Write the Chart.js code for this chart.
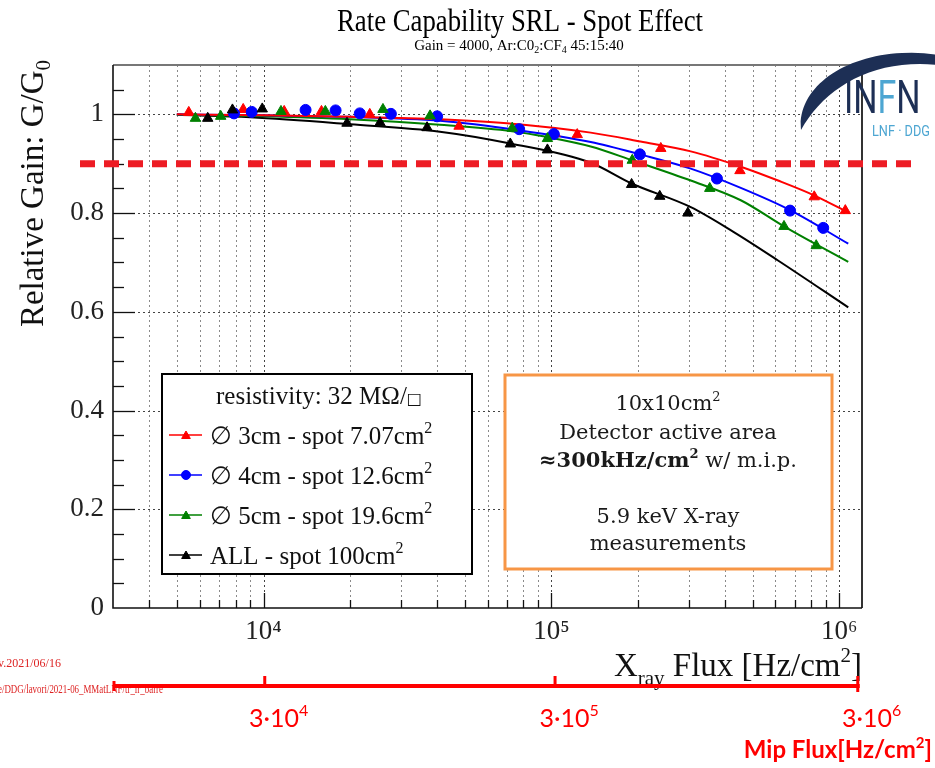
<!DOCTYPE html>
<html><head><meta charset="utf-8">
<script src="https://cdn.jsdelivr.net/npm/chart.js@4.4.1/dist/chart.umd.min.js"></script>
<style>html,body{margin:0;padding:0;background:#fff;}#wrap{width:935px;height:768px;}</style>
</head><body><div id="wrap"><canvas id="c" width="935" height="768"></canvas></div>
<script>
// ---------- data ----------
const seriesLabels = ['\u2205 3cm - spot 7.07cm', '\u2205 4cm - spot 12.6cm', '\u2205 5cm - spot 19.6cm', 'ALL - spot 100cm'];
const seriesColors = ['#ff0000', '#0000ff', '#008000', '#000000'];
const seriesMarkers = ['triangle', 'circle', 'triangle', 'triangle'];

const fluxRed  = [5500, 8500, 11800, 15900, 23400, 47800, 103000, 123000, 240000, 452000, 819000, 1050000];
const gainRed  = [1.004, 1.010, 1.006, 1.006, 1.000, 0.976, 0.961, 0.959, 0.931, 0.886, 0.833, 0.805];
const fluxBlue = [7900, 9100, 14000, 17800, 21600, 27700, 40100, 77300, 102000, 203000, 376000, 675000, 880000];
const gainBlue = [1.002, 1.005, 1.009, 1.008, 1.002, 1.001, 0.996, 0.970, 0.960, 0.919, 0.870, 0.805, 0.770];
const fluxGreen = [5800, 7100, 11500, 16400, 26000, 37900, 73100, 96900, 191000, 355000, 643000, 832000];
const gainGreen = [0.992, 0.996, 1.006, 1.006, 1.010, 0.997, 0.972, 0.951, 0.907, 0.850, 0.773, 0.734];
const fluxAll = [6400, 7800, 9900, 19500, 25400, 37000, 72000, 96900, 190000, 238000, 298000];
const gainAll = [0.992, 1.009, 1.011, 0.982, 0.983, 0.973, 0.940, 0.928, 0.858, 0.834, 0.800];

// fitted curves
const fitFluxRed  = [5000, 10000, 20000, 41000, 70000, 137000, 204000, 305000, 455000, 613000, 818000, 1075000];
const fitGainRed  = [1.000, 0.998, 0.995, 0.990, 0.982, 0.963, 0.945, 0.925, 0.894, 0.866, 0.836, 0.801];
const fitFluxBlue = [5000, 10000, 20000, 41000, 77000, 137000, 203000, 305000, 455000, 675000, 1075000];
const fitGainBlue = [1.000, 0.998, 0.995, 0.987, 0.968, 0.944, 0.919, 0.890, 0.851, 0.806, 0.738];
const fitFluxGreen = [5000, 10000, 20000, 41000, 73000, 97000, 137000, 191000, 305000, 455000, 643000, 1075000];
const fitGainGreen = [0.999, 0.996, 0.990, 0.979, 0.966, 0.954, 0.935, 0.907, 0.866, 0.826, 0.773, 0.701];
const fitFluxAll = [5000, 9000, 20000, 41000, 72000, 137000, 190000, 305000, 429000, 613000, 1075000];
const fitGainAll = [0.999, 0.994, 0.980, 0.965, 0.941, 0.902, 0.860, 0.812, 0.762, 0.704, 0.609];

const xTickValues = [1e4, 1e5, 1e6];
const xTickLabels = ['10\u2074', '10\u2075', '10\u2076'];
const yTickValues = [0, 0.2, 0.4, 0.6, 0.8, 1];
const yTickLabels = ['0', '0.2', '0.4', '0.6', '0.8', '1'];
const xMin = 3000, xMax = 1.2e6, yMin = 0, yMax = 1.1;
const gainThreshold = 0.9;

// secondary (m.i.p.) annotation axis: labels and where they sit on the X-ray axis
const mipTickAtXray = [1.01e4, 1.03e5, 1.16e6];
const mipTickBase = ['3\u00b710', '3\u00b710', '3\u00b710'];
const mipTickExp = ['4', '5', '6'];

// minor tick values of the log axis
const xMinorValues = [];
for (let d = 1e3; d <= 1e6; d *= 10) for (let k = 1; k <= 9; k++) { const v = k * d; if (v > xMin && v <= xMax) xMinorValues.push(v); }
const yMinorValues = [];
for (let k = 1; k <= 22; k++) yMinorValues.push(Math.round(k * 5) / 100);

// ---------- helpers ----------
const SERIF = '"Liberation Serif", "Times New Roman", serif';
const SANS = 'Lato, "Open Sans", sans-serif';
const toPts = (xs, ys) => xs.map((x, i) => ({ x: x, y: ys[i] }));

function drawRuns(ctx, runs, x, y, align, maxW) {
  let total = 0;
  const ws = runs.map(r => { ctx.font = r.font; const w = ctx.measureText(r.t).width; total += w; return w; });
  const sx = (maxW && total > maxW) ? maxW / total : 1;
  const W = total * sx;
  const start = align === 'center' ? x - W / 2 : align === 'right' ? x - W : x;
  ctx.save();
  ctx.textAlign = 'left'; ctx.textBaseline = 'alphabetic';
  ctx.translate(start, y); ctx.scale(sx, 1);
  let cx = 0;
  runs.forEach((r, i) => { ctx.font = r.font; if (r.color) ctx.fillStyle = r.color; ctx.fillText(r.t, cx, r.dy || 0); cx += ws[i]; });
  ctx.restore();
  return W;
}

function drawMarker(ctx, style, x, y, r, color) {
  ctx.save();
  ctx.fillStyle = color; ctx.strokeStyle = color; ctx.lineWidth = 1;
  ctx.beginPath();
  if (style === 'circle') ctx.arc(x, y, r, 0, Math.PI * 2);
  else { for (let k = 0; k < 3; k++) { const a = -Math.PI / 2 + k * 2 * Math.PI / 3; const px = x + r * Math.cos(a), py = y + r * Math.sin(a); k ? ctx.lineTo(px, py) : ctx.moveTo(px, py); } ctx.closePath(); }
  ctx.fill(); ctx.stroke();
  ctx.restore();
}

const decor = {
  id: 'decor',
  beforeDraw(chart) {
    const ctx = chart.ctx; ctx.save(); ctx.fillStyle = '#fff'; ctx.fillRect(0, 0, chart.width, chart.height); ctx.restore();
  },
  beforeDatasetsDraw(chart) {
    const ctx = chart.ctx, a = chart.chartArea, xs = chart.scales.x, ys = chart.scales.y;
    ctx.save();
    // grid
    ctx.lineWidth = 1; ctx.setLineDash([2, 3]);
    xMinorValues.forEach(v => {
      const px = Math.round(xs.getPixelForValue(v)) + 0.5;
      ctx.strokeStyle = xTickValues.includes(v) ? '#444' : '#8a8a8a';
      ctx.beginPath(); ctx.moveTo(px, a.top); ctx.lineTo(px, a.bottom); ctx.stroke();
    });
    yTickValues.forEach(v => {
      if (v === 0) return;
      const py = Math.round(ys.getPixelForValue(v)) + 0.5;
      ctx.strokeStyle = '#444';
      ctx.beginPath(); ctx.moveTo(a.left, py); ctx.lineTo(a.right, py); ctx.stroke();
    });
    ctx.setLineDash([]);
    // ticks
    ctx.strokeStyle = '#111'; ctx.lineWidth = 1.3;
    yMinorValues.forEach(v => {
      if (v >= yMax) return;
      const py = Math.round(ys.getPixelForValue(v)) + 0.5;
      const major = Math.abs(v * 5 - Math.round(v * 5)) < 1e-6;
      ctx.beginPath(); ctx.moveTo(a.left, py); ctx.lineTo(a.left + (major ? 22 : 11), py); ctx.stroke();
    });
    xMinorValues.forEach(v => {
      const px = Math.round(xs.getPixelForValue(v)) + 0.5;
      const major = xTickValues.includes(v);
      ctx.beginPath(); ctx.moveTo(px, a.bottom); ctx.lineTo(px, a.bottom - (major ? 15 : 8)); ctx.stroke();
    });
    // frame
    ctx.lineWidth = 2; ctx.strokeStyle = '#777';
    ctx.beginPath(); ctx.moveTo(a.left, a.top); ctx.lineTo(a.right, a.top); ctx.stroke();
    ctx.strokeStyle = '#333';
    ctx.beginPath(); ctx.moveTo(a.right, a.top); ctx.lineTo(a.right, a.bottom); ctx.stroke();
    ctx.strokeStyle = '#111'; ctx.lineWidth = 1.6;
    ctx.beginPath(); ctx.moveTo(a.left, a.top); ctx.lineTo(a.left, a.bottom); ctx.lineTo(a.right, a.bottom); ctx.stroke();
    ctx.restore();
  },
  afterDatasetsDraw(chart) {
    const ctx = chart.ctx, a = chart.chartArea, xs = chart.scales.x, ys = chart.scales.y;
    ctx.save();
    // legend box
    ctx.fillStyle = '#fff'; ctx.fillRect(162, 374, 310, 200);
    ctx.strokeStyle = '#000'; ctx.lineWidth = 2; ctx.strokeRect(162, 374, 310, 200);
    ctx.fillStyle = '#111';
    drawRuns(ctx, [{ t: 'resistivity: 32 M\u03a9/', font: '25px ' + SERIF }, { t: '\u25a1', font: '16px "DejaVu Sans", sans-serif' }], 319, 404, 'center', 220);
    seriesLabels.forEach((lab, i) => {
      const y = 435 + i * 40;
      ctx.strokeStyle = seriesColors[i]; ctx.lineWidth = 1.5;
      ctx.beginPath(); ctx.moveTo(169, y); ctx.lineTo(202, y); ctx.stroke();
      drawMarker(ctx, seriesMarkers[i], 186, y + (seriesMarkers[i] === 'circle' ? 0 : 1), seriesMarkers[i] === 'circle' ? 4.5 : 5, seriesColors[i]);
      ctx.fillStyle = '#111';
      drawRuns(ctx, [{ t: lab, font: '25px ' + SERIF }, { t: '2', font: '16px ' + SERIF, dy: -11 }], 210, y + 9, 'left', 230);
    });
    // info box
    ctx.fillStyle = '#fff'; ctx.fillRect(505, 375, 327, 194);
    ctx.strokeStyle = '#f79646'; ctx.lineWidth = 3; ctx.strokeRect(505, 375, 327, 194);
    ctx.fillStyle = '#1a1a1a';
    const DS = '"DejaVu Serif", serif';
    drawRuns(ctx, [{ t: '10x10cm', font: '21px ' + DS }, { t: '2', font: '13px ' + DS, dy: -9 }], 668, 410, 'center');
    drawRuns(ctx, [{ t: 'Detector active area', font: '21px ' + DS }], 668, 439, 'center', 218);
    drawRuns(ctx, [{ t: '\u2248300kHz/cm', font: 'bold 21px ' + DS }, { t: '2', font: 'bold 13px ' + DS, dy: -9 }, { t: ' w/ m.i.p.', font: '21px ' + DS }], 668, 467, 'center', 258);
    drawRuns(ctx, [{ t: '5.9 keV X-ray', font: '21px ' + DS }], 668, 523, 'center');
    drawRuns(ctx, [{ t: 'measurements', font: '21px ' + DS }], 668, 550, 'center');
    // threshold line
    const ty = ys.getPixelForValue(gainThreshold);
    ctx.strokeStyle = '#ed1c24'; ctx.lineWidth = 7; ctx.setLineDash([15, 9]);
    ctx.beginPath(); ctx.moveTo(80, ty); ctx.lineTo(913, ty); ctx.stroke();
    ctx.setLineDash([]);
    ctx.restore();
  },
  afterDraw(chart) {
    const ctx = chart.ctx, a = chart.chartArea, xs = chart.scales.x;
    ctx.save();
    ctx.fillStyle = '#000';
    // titles
    drawRuns(ctx, [{ t: 'Rate Capability SRL - Spot Effect', font: '31px ' + SERIF }], 520, 31, 'center', 366);
    drawRuns(ctx, [{ t: 'Gain = 4000, Ar:C0', font: '15px ' + SERIF }, { t: '2', font: '10px ' + SERIF, dy: 3 }, { t: ':CF', font: '15px ' + SERIF }, { t: '4', font: '10px ' + SERIF, dy: 3 }, { t: ' 45:15:40', font: '15px ' + SERIF }], 519, 50, 'center', 244);
    // y title
    ctx.save(); ctx.translate(43, 60); ctx.rotate(-Math.PI / 2);
    ctx.fillStyle = '#111';
    drawRuns(ctx, [{ t: 'Relative Gain: G/G', font: '33px ' + SERIF }, { t: '0', font: '21px ' + SERIF, dy: 7 }], 0, 0, 'right', 275);
    ctx.restore();
    // x title
    ctx.fillStyle = '#111';
    drawRuns(ctx, [{ t: 'X', font: '33px ' + SERIF }, { t: 'ray', font: '21px ' + SERIF, dy: 9 }, { t: ' Flux [Hz/cm', font: '33px ' + SERIF }, { t: '2', font: '21px ' + SERIF, dy: -14 }, { t: ']', font: '33px ' + SERIF }], a.right, 676, 'right', 250);
    // small red path labels
    ctx.fillStyle = '#dd2222';
    drawRuns(ctx, [{ t: 'v.2021/06/16', font: '12px ' + SERIF }], -2, 667, 'left');
    drawRuns(ctx, [{ t: 'e/DDG/lavori/2021-06_MMatLNF/tr_lr_barre', font: '12px ' + SERIF }], -2, 693, 'left', 165);
    // mip flux bracket
    const by = 686;
    const xr = xs.getPixelForValue(mipTickAtXray[2]);
    ctx.strokeStyle = '#ff0000'; ctx.lineWidth = 4; ctx.lineCap = 'butt';
    ctx.beginPath(); ctx.moveTo(a.left, by); ctx.lineTo(xr + 2, by); ctx.stroke();
    ctx.lineWidth = 3;
    ctx.beginPath(); ctx.moveTo(a.left + 1, by - 5); ctx.lineTo(a.left + 1, by + 5); ctx.stroke();
    mipTickAtXray.forEach((v, i) => {
      const px = xs.getPixelForValue(v);
      ctx.beginPath(); ctx.moveTo(px, by - 10); ctx.lineTo(px, by + (i === 2 ? 6 : 1)); ctx.stroke();
      ctx.fillStyle = '#ff0000';
      drawRuns(ctx, [{ t: mipTickBase[i], font: '25px ' + SANS }, { t: mipTickExp[i], font: '16px ' + SANS, dy: -11 }], px + 14, 727, 'center');
    });
    ctx.fillStyle = '#ff0000';
    drawRuns(ctx, [{ t: 'Mip Flux[Hz/cm', font: 'bold 24px ' + SANS }, { t: '2', font: 'bold 15px ' + SANS, dy: -10 }, { t: ']', font: 'bold 24px ' + SANS }], 932, 758, 'right', 194);
    // INFN logo
    ctx.fillStyle = '#1d2f55';
    ctx.beginPath();
    ctx.moveTo(801, 130);
    ctx.bezierCurveTo(797, 90, 840, 56, 902, 53);
    ctx.quadraticCurveTo(922, 52, 937, 55);
    ctx.lineTo(937, 65);
    ctx.quadraticCurveTo(920, 63, 902, 65);
    ctx.bezierCurveTo(855, 70, 820, 96, 801, 130);
    ctx.fill();
    ctx.save(); ctx.translate(844, 113); ctx.scale(0.74, 1);
    ctx.font = '400 46px Roboto, "DejaVu Sans", sans-serif'; ctx.textAlign = 'left'; ctx.textBaseline = 'alphabetic';
    let lx = 0;
    [['I', '#1d2f55'], ['N', '#1d2f55'], ['F', '#4da6d2'], ['N', '#1d2f55']].forEach(([l, c]) => { ctx.fillStyle = c; ctx.fillText(l, lx, 0); lx += ctx.measureText(l).width; });
    ctx.restore();
    ctx.fillStyle = '#4da6d2';
    drawRuns(ctx, [{ t: 'LNF \u00b7 DDG', font: '14px Roboto, sans-serif' }], 930, 136, 'right', 58);
    ctx.restore();
  }
};

const mkPoints = (label, xs, ys, i) => ({
  type: 'scatter', label: label, data: toPts(xs, ys), order: 1, showLine: false,
  pointStyle: seriesMarkers[i], pointRadius: seriesMarkers[i] === 'circle' ? 5.5 : 6,
  backgroundColor: seriesColors[i], borderColor: seriesColors[i], pointBorderWidth: 1
});
const mkFit = (label, xs, ys, i) => ({
  type: 'line', label: label + ' fit', data: toPts(xs, ys), order: 2, showLine: true,
  borderColor: seriesColors[i], borderWidth: 2, pointRadius: 0, fill: false, cubicInterpolationMode: 'monotone'
});

new Chart(document.getElementById('c'), {
  type: 'scatter',
  data: {
    datasets: [
      mkFit(seriesLabels[0], fitFluxRed, fitGainRed, 0),
      mkFit(seriesLabels[1], fitFluxBlue, fitGainBlue, 1),
      mkFit(seriesLabels[2], fitFluxGreen, fitGainGreen, 2),
      mkFit(seriesLabels[3], fitFluxAll, fitGainAll, 3),
      mkPoints(seriesLabels[3], fluxAll, gainAll, 3),
      mkPoints(seriesLabels[2], fluxGreen, gainGreen, 2),
      mkPoints(seriesLabels[1], fluxBlue, gainBlue, 1),
      mkPoints(seriesLabels[0], fluxRed, gainRed, 0)
    ]
  },
  options: {
    responsive: false, animation: false, devicePixelRatio: 1,
    layout: { padding: { top: 65, right: 73, left: 0, bottom: 0 } },
    plugins: { legend: { display: false }, tooltip: { enabled: false }, title: { display: false } },
    scales: {
      x: {
        type: 'logarithmic', min: xMin, max: xMax,
        grid: { display: false, drawTicks: false }, border: { display: false },
        afterBuildTicks: ax => { ax.ticks = xTickValues.map(v => ({ value: v })); },
        afterFit: s => { s.height = 160; },
        ticks: { autoSkip: false, maxRotation: 0, padding: 8, color: '#222', font: { family: 'Liberation Serif', size: 27 }, callback: (v, i) => xTickLabels[i] }
      },
      y: {
        min: yMin, max: yMax,
        grid: { display: false, drawTicks: false }, border: { display: false },
        afterBuildTicks: ax => { ax.ticks = yTickValues.map(v => ({ value: v })); },
        afterFit: s => { s.width = 113; },
        ticks: { padding: 9, color: '#222', font: { family: 'Liberation Serif', size: 27 }, callback: (v, i) => yTickLabels[i] }
      }
    }
  },
  plugins: [decor]
});
</script></body></html>
